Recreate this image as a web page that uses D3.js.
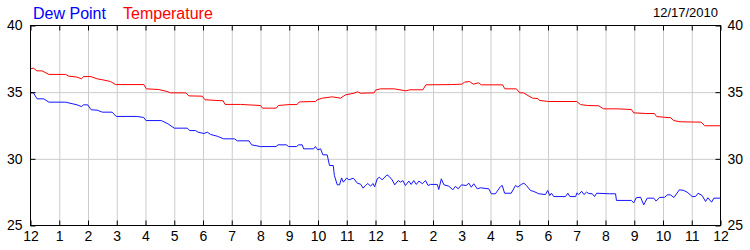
<!DOCTYPE html>
<html>
<head>
<meta charset="utf-8">
<script src="https://cdn.jsdelivr.net/npm/d3@7"></script>
<style>
  body { margin: 0; background: #fff; }
  svg { display: block; font-family: "Liberation Sans", Arial, sans-serif; }
</style>
</head>
<body>
<svg id="chart"></svg>
<script>
// hour labels along the bottom (midnight to midnight)
const hourLabels = ["12","1","2","3","4","5","6","7","8","9","10","11",
                    "12","1","2","3","4","5","6","7","8","9","10","11","12"];
const yTicks = [25, 30, 35, 40];
const dateLabel = "12/17/2010";

// [hour of day, degrees F]
const temperature = [
  [0, 36.75], [0.1, 36.8], [0.22, 36.6], [0.4, 36.6], [0.64, 36.33], [1.22, 36.33],
  [1.33, 36.2], [1.62, 36.13], [1.77, 36.0], [1.85, 36.17], [2.1, 36.17], [2.32, 36.0],
  [2.5, 35.93], [2.78, 35.8], [2.96, 35.57], [3.94, 35.57], [4.03, 35.25], [4.46, 35.2],
  [4.75, 35.05], [4.87, 34.95], [5.4, 34.95], [5.51, 34.72], [5.97, 34.7], [6.07, 34.43],
  [6.7, 34.35], [6.77, 34.08], [7.3, 34.08], [8.0, 34.0], [8.07, 33.8], [8.55, 33.8],
  [8.62, 34.0], [9.0, 34.07], [9.27, 34.07], [9.35, 34.27], [9.92, 34.3], [9.97, 34.43],
  [10.15, 34.55], [10.5, 34.65], [10.78, 34.55], [10.96, 34.8], [11.25, 34.92], [11.37, 35.03],
  [11.48, 34.92], [11.95, 34.95], [12.0, 35.15], [12.17, 35.25], [12.65, 35.25], [13.05, 35.1],
  [13.2, 35.18], [13.65, 35.18], [13.75, 35.55], [14.65, 35.57], [15.0, 35.6], [15.1, 35.75],
  [15.27, 35.8], [15.4, 35.6], [15.58, 35.7], [15.68, 35.55], [16.42, 35.55], [16.5, 35.25],
  [16.9, 35.25], [17.02, 34.95], [17.15, 34.95], [17.3, 34.75], [17.47, 34.55], [17.65, 34.52],
  [17.7, 34.38], [18.02, 34.3], [19.0, 34.3], [19.13, 34.07], [19.37, 34.0], [19.76, 33.98],
  [19.93, 33.75], [20.4, 33.75], [20.9, 33.7], [20.98, 33.45], [21.4, 33.4], [21.7, 33.4],
  [21.78, 33.17], [22.27, 33.08], [22.37, 32.87], [22.6, 32.78], [23.33, 32.75], [23.45, 32.48],
  [24, 32.48]
];

const dewPoint = [
  [0, 34.95], [0.1, 34.95], [0.23, 34.5], [0.46, 34.5], [0.64, 34.25], [1.22, 34.25],
  [1.62, 34.05], [1.77, 33.92], [1.85, 34.05], [1.99, 34.05], [2.11, 33.68], [2.32, 33.65],
  [2.5, 33.5], [2.84, 33.5], [2.98, 33.18], [3.7, 33.18], [3.94, 33.1], [4.02, 32.87],
  [4.55, 32.87], [4.78, 32.63], [5.0, 32.3], [5.45, 32.3], [5.54, 32.12], [5.74, 32.12],
  [5.83, 32.0], [6.03, 31.9], [6.15, 32.0], [6.26, 31.83], [6.49, 31.7], [6.72, 31.5],
  [7.1, 31.5], [7.19, 31.35], [7.6, 31.35], [7.69, 31.05], [8.0, 30.92], [8.55, 30.92],
  [8.6, 31.05], [8.9, 31.05], [8.98, 30.92], [9.25, 30.92], [9.33, 31.05], [9.45, 31.05],
  [9.5, 30.75], [9.85, 30.75], [9.91, 30.92], [9.99, 30.68], [10.09, 30.75], [10.17, 30.3],
  [10.32, 30.3], [10.4, 29.5], [10.53, 29.5], [10.57, 28.75], [10.67, 28.05], [10.75, 28.05],
  [10.82, 28.57], [10.88, 28.25], [11.0, 28.57], [11.07, 28.42], [11.23, 28.55], [11.37, 28.17],
  [11.48, 28.1], [11.57, 27.8], [11.65, 28.0], [11.73, 28.15], [11.83, 27.95], [11.91, 28.15],
  [11.97, 27.9], [12.06, 28.5], [12.14, 28.62], [12.23, 28.42], [12.4, 28.8], [12.48, 28.67],
  [12.58, 28.42], [12.67, 28.05], [12.79, 28.37], [12.87, 28.25], [12.95, 28.37], [13.04, 28.0],
  [13.16, 28.33], [13.24, 28.08], [13.33, 28.37], [13.42, 28.08], [13.51, 28.33], [13.63, 28.13],
  [13.74, 28.37], [13.83, 28.0], [13.91, 28.08], [14.15, 28.08], [14.2, 27.7], [14.29, 28.5],
  [14.38, 28.05], [14.55, 27.95], [14.69, 27.68], [14.78, 27.93], [14.88, 27.75], [14.99, 28.05],
  [15.15, 28.0], [15.25, 28.17], [15.33, 27.87], [15.42, 28.13], [15.54, 27.75], [15.65, 27.83],
  [15.94, 27.75], [16.03, 27.38], [16.17, 27.38], [16.35, 27.93], [16.41, 28.0], [16.49, 27.42],
  [16.72, 27.42], [16.87, 28.0], [16.95, 27.88], [17.07, 28.08], [17.16, 28.17], [17.25, 28.0],
  [17.39, 27.63], [17.51, 27.55], [17.68, 27.38], [17.91, 27.32], [17.99, 27.63], [18.06, 27.25],
  [18.12, 27.42], [18.2, 27.17], [18.61, 27.17], [18.69, 27.42], [18.76, 27.17], [18.96, 27.17],
  [19.01, 27.45], [19.07, 27.32], [19.17, 27.57], [19.25, 27.32], [19.34, 27.5], [19.42, 27.4],
  [19.54, 27.38], [19.62, 27.17], [19.69, 27.42], [20.14, 27.38], [20.35, 27.38], [20.38, 26.88],
  [20.9, 26.88], [20.98, 26.7], [21.07, 27.08], [21.22, 27.12], [21.33, 26.55], [21.45, 27.05],
  [21.68, 27.05], [21.76, 26.83], [21.88, 27.1], [22.06, 27.12], [22.15, 27.3], [22.26, 27.3],
  [22.38, 27.1], [22.57, 27.68], [22.72, 27.63], [22.84, 27.5], [23.02, 27.17], [23.13, 27.17],
  [23.22, 27.42], [23.36, 27.25], [23.48, 26.8], [23.56, 27.08], [23.69, 26.75], [23.77, 27.05],
  [24, 27.05]
];

const width = 750, height = 250;
const plotLeft = 30.5, plotRight = 720.5, plotTop = 25.5, plotBottom = 225.5;

const svg = d3.select("#chart")
  .attr("width", width)
  .attr("height", height);

const x = d3.scaleLinear().domain([0, 24]).range([plotLeft, plotRight]);
const y = d3.scaleLinear().domain([25, 40]).range([plotBottom, plotTop]);

const hours = d3.range(0, 25);

// grid
svg.append("g")
  .attr("transform", `translate(0,${plotTop})`)
  .call(d3.axisTop(x).tickValues(hours.slice(1, -1)).tickSize(-(plotBottom - plotTop)).tickFormat(""))
  .call(g => g.select(".domain").remove())
  .call(g => g.selectAll("line").attr("stroke", "#cccccc"));

svg.append("g")
  .attr("transform", `translate(${plotLeft},0)`)
  .call(d3.axisLeft(y).tickValues([30, 35]).tickSize(-(plotRight - plotLeft)).tickFormat(""))
  .call(g => g.select(".domain").remove())
  .call(g => g.selectAll("line").attr("stroke", "#cccccc"));

// lines
const line = d3.line().x(d => x(d[0])).y(d => y(d[1]));

svg.append("path")
  .datum(temperature)
  .attr("fill", "none")
  .attr("stroke", "#ff0000")
  .attr("stroke-width", 1)
  .attr("d", line);

svg.append("path")
  .datum(dewPoint)
  .attr("fill", "none")
  .attr("stroke", "#1414ff")
  .attr("stroke-width", 1)
  .attr("d", line);

// frame
svg.append("rect")
  .attr("x", plotLeft).attr("y", plotTop)
  .attr("width", plotRight - plotLeft).attr("height", plotBottom - plotTop)
  .attr("fill", "none").attr("stroke", "#000");

// inward tick marks + labels
const fontSize = 14;

svg.append("g")
  .attr("transform", `translate(0,${plotBottom})`)
  .call(d3.axisBottom(x).tickValues(hours).tickSize(-5).tickPadding(6)
    .tickFormat(d => hourLabels[d]))
  .call(g => g.select(".domain").remove())
  .call(g => g.selectAll("line").attr("stroke", "#000"))
  .call(g => g.selectAll("text").attr("fill", "#000")
    .style("font-size", fontSize + "px").style("font-family", "Liberation Sans, Arial"));

svg.append("g")
  .attr("transform", `translate(0,${plotTop})`)
  .call(d3.axisTop(x).tickValues(hours).tickSize(-5).tickFormat(""))
  .call(g => g.select(".domain").remove())
  .call(g => g.selectAll("line").attr("stroke", "#000"));

svg.append("g")
  .attr("transform", `translate(${plotLeft},0)`)
  .call(d3.axisLeft(y).tickValues(yTicks).tickSize(-5).tickPadding(8))
  .call(g => g.select(".domain").remove())
  .call(g => g.selectAll("line").attr("stroke", "#000"))
  .call(g => g.selectAll("text").attr("fill", "#000")
    .style("font-size", fontSize + "px").style("font-family", "Liberation Sans, Arial"));

svg.append("g")
  .attr("transform", `translate(${plotRight},0)`)
  .call(d3.axisRight(y).tickValues(yTicks).tickSize(-5).tickPadding(7))
  .call(g => g.select(".domain").remove())
  .call(g => g.selectAll("line").attr("stroke", "#000"))
  .call(g => g.selectAll("text").attr("fill", "#000")
    .style("font-size", fontSize + "px").style("font-family", "Liberation Sans, Arial"));

// titles
svg.append("text")
  .attr("x", 33).attr("y", 19)
  .attr("fill", "#0000ff")
  .style("font-size", "16px")
  .text("Dew Point");

svg.append("text")
  .attr("x", 123).attr("y", 19)
  .attr("fill", "#ff0000")
  .style("font-size", "16px")
  .text("Temperature");

svg.append("text")
  .attr("x", 718).attr("y", 17)
  .attr("text-anchor", "end")
  .attr("fill", "#000")
  .style("font-size", "13px")
  .text(dateLabel);
</script>
</body>
</html>
